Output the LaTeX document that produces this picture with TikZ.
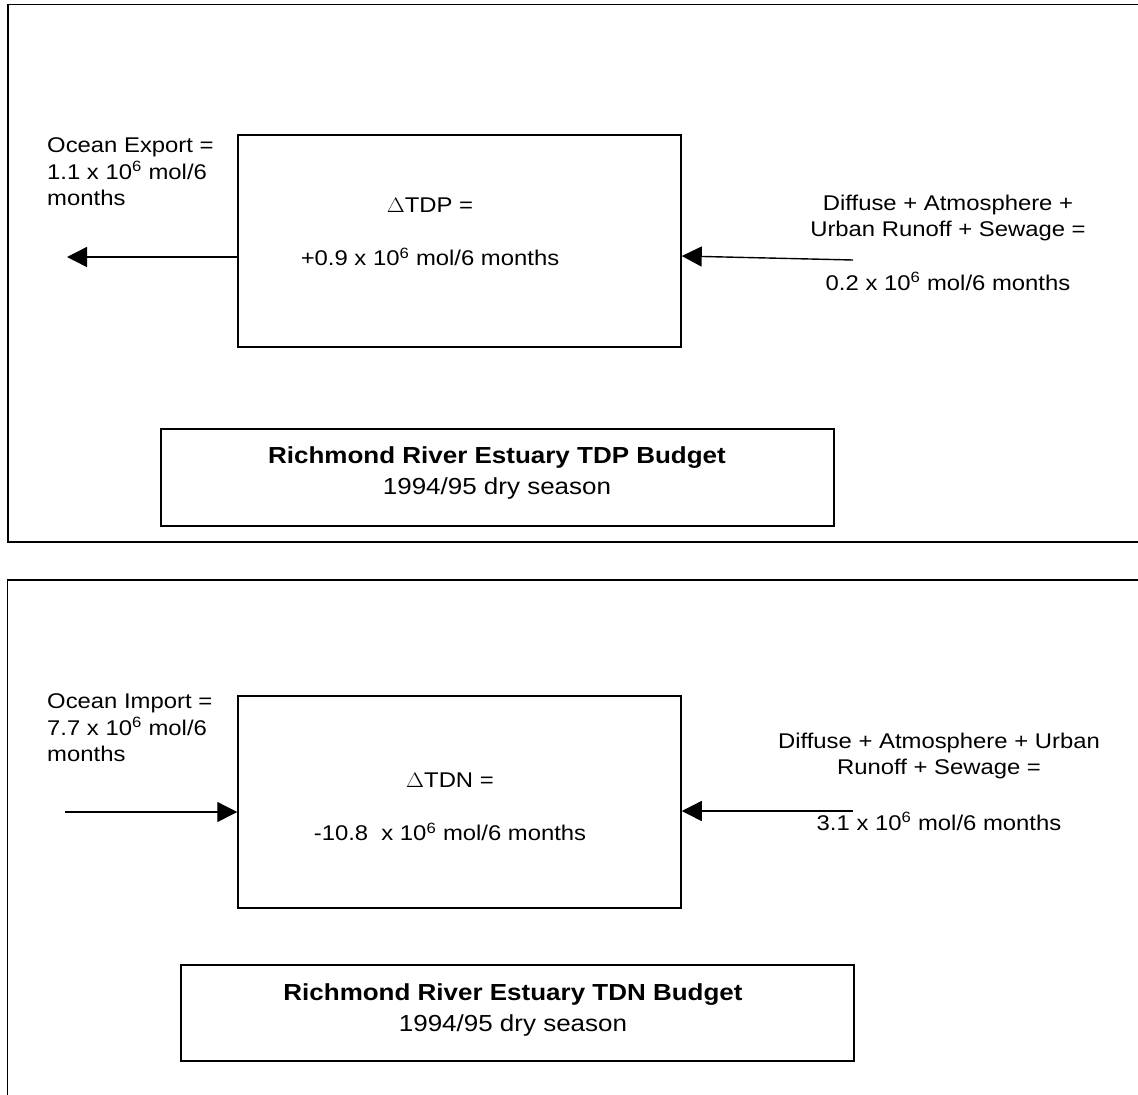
\documentclass[tikz,border=0pt]{standalone}
\usepackage{fontspec}
\setmainfont{Liberation Sans}
\usetikzlibrary{arrows.meta,calc}
\begin{document}
\begin{tikzpicture}[x=1pt,y=-1pt,
  frame/.style={line width=1.5pt},
  boxnode/.style={draw, line width=1.5pt, inner sep=0pt},
  txt/.style={inner sep=0pt, xscale=1.12, font=\fontsize{21.3}{26.5}\selectfont},
  ttl/.style={inner sep=0pt, xscale=1.12, align=center, font=\fontsize{23.2}{31}\selectfont},
  arr/.style={line width=1.4pt, -{Triangle[length=20pt,width=20pt]}}]
\useasboundingbox (0,0) rectangle (1138,1095);

% ---------- upper panel (TDP) ----------
\draw[frame] (1138,4.5) -- (8,4.5) -- (8,542) -- (1138,542);

\node[boxnode, minimum width=443pt, minimum height=212pt] (tdpbox) at (459.5,241) {};
\node[txt, anchor=north, align=center] (tdptxt) at (430,197.5)
  {$\Delta$TDP =\\[27pt]+0.9 x 10\textsuperscript{6} mol/6 months};

\node[txt, anchor=north west, align=left] (export) at (47,137.5)
  {Ocean Export =\\1.1 x 10\textsuperscript{6} mol/6\\months};
\coordinate (exportEnd) at (67,257);
\draw[arr] (tdpbox.west |- exportEnd) -- (exportEnd);

\node[txt, anchor=north, align=center] (tdpsrc) at (948,194.5)
  {Diffuse + Atmosphere +\\Urban Runoff + Sewage =\\[27pt]0.2 x 10\textsuperscript{6} mol/6 months};
\coordinate (tdpsrcStart) at (853,260);
\draw[arr] (tdpsrcStart) -- ($(tdpbox.east)+(0,15)$);

\node[boxnode, minimum width=673pt, minimum height=97pt] (tdptitlebox) at (497.5,477.5) {};
\node[ttl, anchor=north] (tdptitle) at (497,446)
  {\textbf{Richmond River Estuary TDP Budget}\\1994/95 dry season};

% ---------- lower panel (TDN) ----------
\draw[frame] (1138,580) -- (7.5,580) -- (7.5,1096);

\node[boxnode, minimum width=443pt, minimum height=212pt] (tdnbox) at (459.5,802) {};
\node[txt, anchor=north, align=center] (tdntxt) at (450,772.5)
  {$\Delta$TDN =\\[27pt]-10.8 \ x 10\textsuperscript{6} mol/6 months};

\node[txt, anchor=north west, align=left] (import) at (47,693.5)
  {Ocean Import =\\7.7 x 10\textsuperscript{6} mol/6\\months};
\coordinate (importStart) at (65,812);
\draw[arr] (importStart) -- (tdnbox.west |- importStart);

\node[txt, anchor=north, align=center] (tdnsrc) at (939,732.5)
  {Diffuse + Atmosphere + Urban\\Runoff + Sewage =\\[29pt]3.1 x 10\textsuperscript{6} mol/6 months};
\coordinate (tdnsrcStart) at (853,811);
\draw[arr] (tdnsrcStart) -- (tdnbox.east |- tdnsrcStart);

\node[boxnode, minimum width=673pt, minimum height=96pt] (tdntitlebox) at (517.5,1013) {};
\node[ttl, anchor=north] (tdntitle) at (513,983)
  {\textbf{Richmond River Estuary TDN Budget}\\1994/95 dry season};
\end{tikzpicture}
\end{document}
